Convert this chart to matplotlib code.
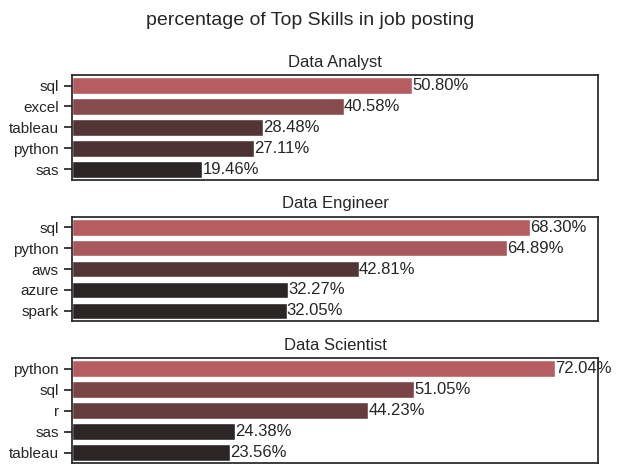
import matplotlib
matplotlib.use("Agg")
import matplotlib.pyplot as plt
import pandas as pd
import seaborn as sns

TITLES = ["Data Analyst", "Data Engineer", "Data Scientist"]
SKILLS = [
    ["sql", "excel", "tableau", "python", "sas"],
    ["sql", "python", "aws", "azure", "spark"],
    ["python", "sql", "r", "sas", "tableau"],
]
PERCENTS = [
    [50.80, 40.58, 28.48, 27.11, 19.46],
    [68.30, 64.89, 42.81, 32.27, 32.05],
    [72.04, 51.05, 44.23, 24.38, 23.56],
]

sns.set_theme(style="ticks")
plt.rcParams["font.family"] = ["Liberation Sans", "DejaVu Sans"]

fig, axes = plt.subplots(3, 1, figsize=(6.21, 4.72), dpi=100)
fig.subplots_adjust(left=0.116, right=0.963, top=0.841, bottom=0.019, hspace=0.352)

for ax, title, skills, pcts in zip(axes, TITLES, SKILLS, PERCENTS):
    df = pd.DataFrame({"skill": skills, "pct": pcts})
    sns.barplot(data=df, x="pct", y="skill", hue="pct", palette="dark:r",
                legend=False, ax=ax)
    ax.set_title(title, fontsize=12)
    ax.set_xlabel("")
    ax.set_ylabel("")
    ax.set_xlim(0, 78.5)
    ax.set_xticks([])
    ax.tick_params(axis="y", labelsize=11)
    for i, v in enumerate(pcts):
        ax.text(v, i, f"{v:.2f}%", va="center", fontsize=12)

fig.suptitle("percentage of Top Skills in job posting", fontsize=14, y=0.975)
fig.savefig("out.png", dpi=100)
